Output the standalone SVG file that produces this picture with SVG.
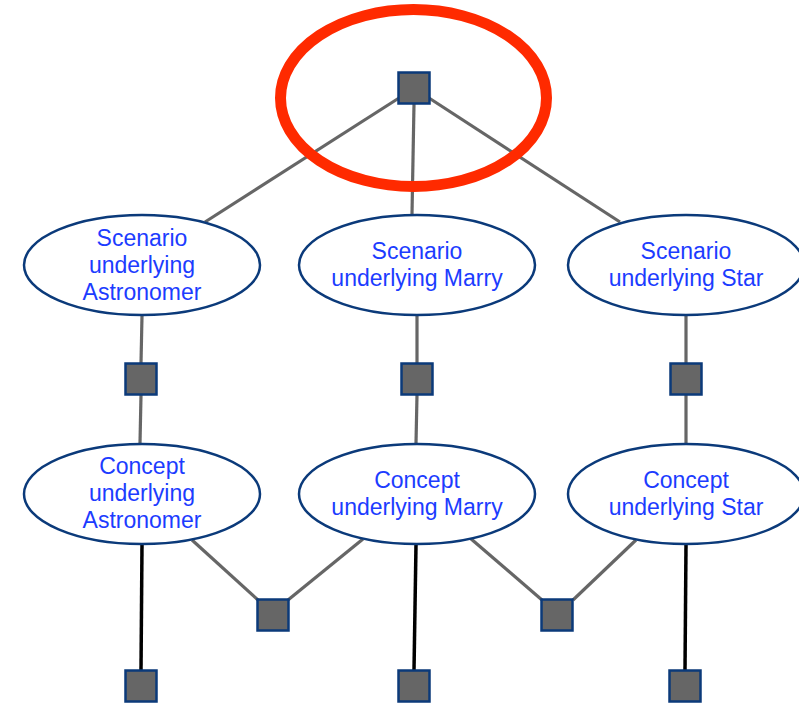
<svg xmlns="http://www.w3.org/2000/svg" width="799" height="706" viewBox="0 0 799 706">
  <style>
    .link { stroke: #666666; stroke-width: 3.2; fill: none; }
    .link-dark { stroke: #000000; stroke-width: 3.5; fill: none; }
    .factor { fill: #666666; stroke: #0b3a7a; stroke-width: 2.5; }
    .var { fill: #ffffff; stroke: #0b3a7a; stroke-width: 2.5; }
    .label { font-family: "Liberation Sans", Arial, Helvetica, sans-serif; font-size: 23px; fill: #1c3cff; text-anchor: middle; }
    .highlight { fill: none; stroke: #ff2a00; stroke-width: 11; }
  </style>

  <!-- connectors -->
  <g id="connectors">
    <line class="link" x1="399" y1="98" x2="205" y2="222"/>
    <line class="link" x1="414" y1="104" x2="412" y2="214"/>
    <line class="link" x1="429" y1="98" x2="620" y2="222"/>

    <line class="link" x1="142" y1="316" x2="141" y2="363"/>
    <line class="link" x1="141" y1="395" x2="140" y2="443"/>
    <line class="link" x1="417" y1="316" x2="417" y2="363"/>
    <line class="link" x1="417" y1="395" x2="416" y2="443"/>
    <line class="link" x1="686" y1="316" x2="686" y2="363"/>
    <line class="link" x1="686" y1="395" x2="686" y2="443"/>

    <line class="link" x1="192" y1="540" x2="258" y2="600"/>
    <line class="link" x1="288" y1="600" x2="363" y2="539"/>
    <line class="link" x1="470" y1="538" x2="542" y2="600"/>
    <line class="link" x1="573" y1="600" x2="636" y2="540"/>

    <line class="link-dark" x1="142" y1="545" x2="141" y2="670"/>
    <line class="link-dark" x1="416" y1="545" x2="414" y2="670"/>
    <line class="link-dark" x1="686" y1="545" x2="685" y2="670"/>
  </g>

  <!-- factor squares -->
  <g id="factor-top"><rect class="factor" x="398.5" y="72.5" width="31" height="31"/></g>
  <g id="factor-astronomer"><rect class="factor" x="125.5" y="363.5" width="31" height="31"/></g>
  <g id="factor-marry"><rect class="factor" x="401.5" y="363.5" width="31" height="31"/></g>
  <g id="factor-star"><rect class="factor" x="670.5" y="363.5" width="31" height="31"/></g>
  <g id="factor-link-left"><rect class="factor" x="257.5" y="599.5" width="31" height="31"/></g>
  <g id="factor-link-right"><rect class="factor" x="541.5" y="599.5" width="31" height="31"/></g>
  <g id="factor-bottom-astronomer"><rect class="factor" x="125.5" y="670.5" width="31" height="31"/></g>
  <g id="factor-bottom-marry"><rect class="factor" x="398.5" y="670.5" width="31" height="31"/></g>
  <g id="factor-bottom-star"><rect class="factor" x="669.5" y="670.5" width="31" height="31"/></g>

  <!-- scenario nodes -->
  <g id="scenario-astronomer">
    <ellipse class="var" cx="142" cy="265" rx="118" ry="50"/>
    <text class="label" x="142" y="246">Scenario</text>
    <text class="label" x="142" y="273">underlying</text>
    <text class="label" x="142" y="300">Astronomer</text>
  </g>
  <g id="scenario-marry">
    <ellipse class="var" cx="417" cy="265" rx="118" ry="50"/>
    <text class="label" x="417" y="259">Scenario</text>
    <text class="label" x="417" y="286">underlying Marry</text>
  </g>
  <g id="scenario-star">
    <ellipse class="var" cx="686" cy="265" rx="118" ry="50"/>
    <text class="label" x="686" y="259">Scenario</text>
    <text class="label" x="686" y="286">underlying Star</text>
  </g>

  <!-- concept nodes -->
  <g id="concept-astronomer">
    <ellipse class="var" cx="142" cy="494" rx="118" ry="50"/>
    <text class="label" x="142" y="474">Concept</text>
    <text class="label" x="142" y="501">underlying</text>
    <text class="label" x="142" y="528">Astronomer</text>
  </g>
  <g id="concept-marry">
    <ellipse class="var" cx="417" cy="494" rx="118" ry="50"/>
    <text class="label" x="417" y="488">Concept</text>
    <text class="label" x="417" y="515">underlying Marry</text>
  </g>
  <g id="concept-star">
    <ellipse class="var" cx="686" cy="494" rx="118" ry="50"/>
    <text class="label" x="686" y="488">Concept</text>
    <text class="label" x="686" y="515">underlying Star</text>
  </g>

  <!-- highlight ring around the root factor -->
  <g id="highlight">
    <ellipse class="highlight" cx="413.5" cy="98" rx="133" ry="88.5"/>
  </g>
</svg>
